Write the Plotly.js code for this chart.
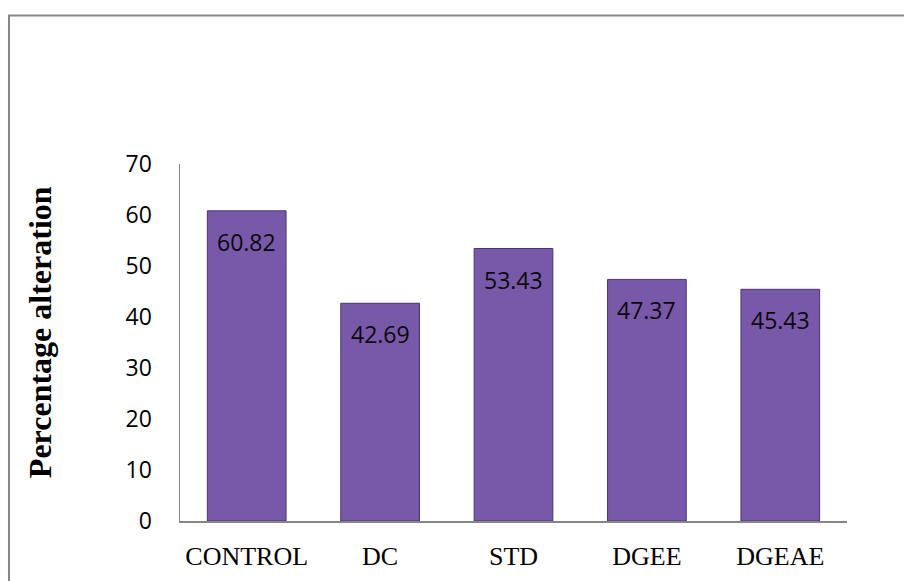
<!DOCTYPE html>
<html>
<head>
<meta charset="utf-8">
<script src="https://cdn.plot.ly/plotly-3.0.1.min.js"></script>
<style>
html,body{margin:0;padding:0;background:#fff;}
#chart{width:904px;height:581px;}
</style>
</head>
<body>
<div id="chart"></div>
<script>
var categories = ["CONTROL", "DC", "STD", "DGEE", "DGEAE"];
var values = [60.82, 42.69, 53.43, 47.37, 45.43];
var valueLabels = ["60.82", "42.69", "53.43", "47.37", "45.43"];
var yTickVals = [0, 10, 20, 30, 40, 50, 60, 70];
var yTitle = "Percentage alteration";

var trace = {
  type: "bar",
  x: categories,
  y: values,
  marker: {color: "#7858a8", line: {color: "#4a3670", width: 1}},
  hoverinfo: "x+y"
};

var annotations = categories.map(function(c, i){
  return {
    x: c, y: values[i], xref: "x", yref: "y",
    text: valueLabels[i], showarrow: false,
    yanchor: "middle", yshift: -31,
    font: {family: "Open Sans, sans-serif", size: 23, color: "#0a0a0a"}
  };
});
annotations.push({
  xref: "paper", yref: "paper", x: -0.2099, y: 0.529,
  text: yTitle, textangle: -90, showarrow: false,
  xanchor: "center", yanchor: "middle",
  font: {family: "Liberation Serif, Times New Roman, serif", size: 32, color: "#000", weight: "bold"}
});

var layout = {
  width: 904, height: 581,
  margin: {l: 180, r: 57, t: 164, b: 60},
  paper_bgcolor: "#fff", plot_bgcolor: "#fff",
  showlegend: false,
  bargap: 0.41,
  xaxis: {
    showline: true, linecolor: "#868686", linewidth: 1.5,
    showgrid: false, zeroline: false, ticks: "",
    ticklabelstandoff: 11,
    tickfont: {family: "Liberation Serif, Times New Roman, serif", size: 26, color: "#000"}
  },
  yaxis: {
    range: [0, 70], tickvals: yTickVals,
    showline: true, linecolor: "#868686", linewidth: 1.5,
    showgrid: false, zeroline: false, ticks: "",
    ticklabelstandoff: 22,
    tickfont: {family: "Open Sans, sans-serif", size: 23, color: "#000"}
  },
  annotations: annotations,
  shapes: [{
    type: "rect", xref: "paper", yref: "paper",
    x0: -0.2564, x1: 1.2, y0: -0.3, y1: 1.416,
    line: {color: "#868686", width: 2}, fillcolor: "rgba(0,0,0,0)", layer: "below"
  }]
};

Plotly.newPlot("chart", [trace], layout, {displayModeBar: false, staticPlot: true});
</script>
</body>
</html>
